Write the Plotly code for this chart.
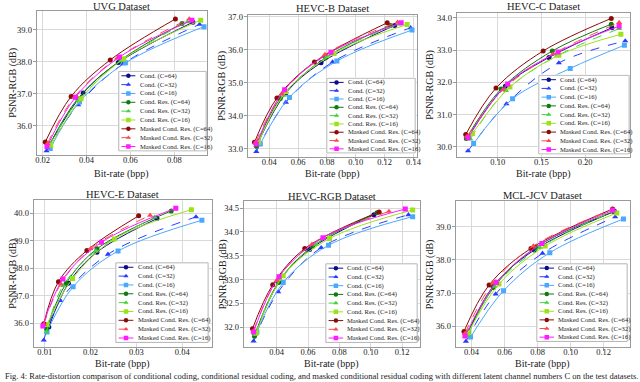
import plotly.graph_objects as go

W, H = 640, 382
FONT = "Liberation Serif"

# series, same order in every panel
series_names = ["Cond. (C=64)", "Cond. (C=32)", "Cond. (C=16)",
                "Cond. Res. (C=64)", "Cond. Res. (C=32)", "Cond. Res. (C=16)",
                "Masked Cond. Res. (C=64)", "Masked Cond. Res. (C=32)", "Masked Cond. Res. (C=16)"]

# ---- UVG
uvg_rate = [[0.0225, 0.0385, 0.0545, 0.0885],
            [0.0218, 0.0362, 0.0567, 0.0915],
            [0.0235, 0.0368, 0.0578, 0.0935],
            [0.0232, 0.0360, 0.0555, 0.0835],
            [0.0228, 0.0363, 0.0560, 0.0860],
            [0.0237, 0.0375, 0.0570, 0.0920],
            [0.0212, 0.0330, 0.0508, 0.0805],
            [0.0222, 0.0345, 0.0540, 0.0868],
            [0.0220, 0.0350, 0.0550, 0.0880]]
uvg_psnr = [[35.35, 37.03, 37.98, 39.24],
            [35.22, 36.66, 37.94, 39.17],
            [35.30, 36.75, 37.97, 39.10],
            [35.42, 36.85, 38.05, 39.20],
            [35.38, 36.80, 38.05, 39.25],
            [35.40, 36.85, 38.10, 39.30],
            [35.50, 36.92, 38.06, 39.34],
            [35.45, 36.90, 38.12, 39.34],
            [35.36, 36.90, 38.15, 39.30]]

# ---- HEVC-B
hevcb_rate = [[0.0326, 0.0515, 0.0759, 0.127],
              [0.0310, 0.0515, 0.0839, 0.138],
              [0.0338, 0.0540, 0.0869, 0.139],
              [0.0310, 0.0476, 0.0790, 0.124],
              [0.0320, 0.0500, 0.0800, 0.130],
              [0.0325, 0.0515, 0.0850, 0.1356],
              [0.0297, 0.0453, 0.0713, 0.1218],
              [0.0305, 0.0487, 0.0786, 0.129],
              [0.0310, 0.0506, 0.0828, 0.1315]]
hevcb_psnr = [[33.22, 34.69, 35.61, 36.74],
              [32.92, 34.41, 35.63, 36.67],
              [33.15, 34.56, 35.66, 36.60],
              [33.08, 34.53, 35.76, 36.74],
              [33.15, 34.62, 35.80, 36.78],
              [33.20, 34.73, 35.89, 36.77],
              [33.20, 34.54, 35.63, 36.82],
              [33.20, 34.66, 35.86, 36.84],
              [33.15, 34.79, 35.93, 36.82]]

# ---- HEVC-C
hevcc_rate = [[0.0660, 0.1087, 0.1587, 0.2307],
              [0.0660, 0.1100, 0.1700, 0.2460],
              [0.0724, 0.1170, 0.1830, 0.2450],
              [0.0640, 0.1038, 0.1625, 0.2300],
              [0.0686, 0.1095, 0.1680, 0.2390],
              [0.0710, 0.1140, 0.1700, 0.2410],
              [0.0633, 0.0980, 0.1520, 0.2300],
              [0.0650, 0.1060, 0.1630, 0.2390],
              [0.0660, 0.1114, 0.1690, 0.2390]]
hevcc_psnr = [[30.30, 31.88, 32.77, 33.69],
              [29.87, 31.33, 32.60, 33.28],
              [30.10, 31.49, 32.43, 33.15],
              [30.26, 31.79, 32.97, 33.80],
              [30.24, 31.74, 32.82, 33.66],
              [30.41, 31.85, 32.84, 33.49],
              [30.38, 31.82, 32.97, 33.98],
              [30.32, 31.77, 32.87, 33.85],
              [30.28, 31.95, 32.94, 33.74]]

# ---- HEVC-E
hevce_rate = [[0.0109, 0.0152, 0.0214, 0.0345],
              [0.0098, 0.0134, 0.0238, 0.0430],
              [0.0105, 0.0162, 0.0260, 0.0443],
              [0.0104, 0.0147, 0.0214, 0.0376],
              [0.0104, 0.0140, 0.0212, 0.0340],
              [0.0105, 0.0161, 0.0252, 0.0420],
              [0.0098, 0.0130, 0.0192, 0.0305],
              [0.0098, 0.0135, 0.0200, 0.0330],
              [0.0096, 0.0140, 0.0224, 0.0386]]
hevce_psnr = [[35.86, 37.45, 38.58, 39.80],
              [35.38, 36.82, 38.50, 39.86],
              [35.68, 37.32, 38.62, 39.74],
              [35.80, 37.45, 38.70, 40.08],
              [35.68, 37.36, 38.62, 39.85],
              [35.95, 37.62, 39.06, 40.12],
              [35.98, 37.50, 38.64, 39.90],
              [35.95, 37.42, 38.70, 39.92],
              [35.89, 37.60, 38.94, 40.18]]

# ---- HEVC-RGB
hevcrgb_rate = [[0.0262, 0.0415, 0.0610, 0.1020],
                [0.0253, 0.0410, 0.0684, 0.1240],
                [0.0274, 0.0442, 0.0731, 0.1267],
                [0.0259, 0.0410, 0.0630, 0.1040],
                [0.0262, 0.0420, 0.0650, 0.1060],
                [0.0270, 0.0442, 0.0737, 0.1267],
                [0.0246, 0.0375, 0.0579, 0.1053],
                [0.0252, 0.0400, 0.0625, 0.1116],
                [0.0253, 0.0415, 0.0695, 0.1220]]
hevcrgb_psnr = [[31.85, 32.95, 33.63, 34.36],
                [31.71, 32.74, 33.67, 34.36],
                [31.90, 32.94, 33.72, 34.32],
                [31.81, 32.94, 33.70, 34.40],
                [31.85, 33.00, 33.74, 34.40],
                [31.88, 33.08, 33.86, 34.46],
                [31.97, 32.89, 33.65, 34.42],
                [31.92, 32.98, 33.74, 34.43],
                [31.90, 33.06, 33.88, 34.48]]

# ---- MCL-JCV
mcl_rate = [[0.0380, 0.0530, 0.0780, 0.1266],
            [0.0366, 0.0546, 0.0830, 0.1270],
            [0.0394, 0.0594, 0.0874, 0.1320],
            [0.0375, 0.0534, 0.0790, 0.1260],
            [0.0378, 0.0540, 0.0814, 0.1262],
            [0.0380, 0.0566, 0.0846, 0.1280],
            [0.0354, 0.0506, 0.0760, 0.1254],
            [0.0360, 0.0530, 0.0774, 0.1250],
            [0.0360, 0.0550, 0.0826, 0.1256]]
mcl_psnr = [[35.82, 37.20, 38.30, 39.47],
            [35.54, 36.97, 38.20, 39.30],
            [35.67, 37.07, 38.22, 39.24],
            [35.76, 37.17, 38.38, 39.46],
            [35.72, 37.20, 38.37, 39.48],
            [35.80, 37.27, 38.42, 39.42],
            [35.84, 37.24, 38.35, 39.54],
            [35.78, 37.30, 38.42, 39.52],
            [35.70, 37.32, 38.50, 39.50]]

# tick labels
uvg_xticks = [0.02, 0.04, 0.06, 0.08]
uvg_yticks = [36.0, 37.0, 38.0, 39.0]
hevcb_xticks = [0.04, 0.06, 0.08, 0.10, 0.12, 0.14]
hevcb_yticks = [33.0, 34.0, 35.0, 36.0, 37.0]
hevcc_xticks = [0.10, 0.15, 0.20]
hevcc_yticks = [30.0, 31.0, 32.0, 33.0, 34.0]
hevce_xticks = [0.01, 0.02, 0.03, 0.04]
hevce_yticks = [36.0, 37.0, 38.0, 39.0, 40.0]
hevcrgb_xticks = [0.04, 0.06, 0.08, 0.10, 0.12]
hevcrgb_yticks = [32.0, 32.5, 33.0, 33.5, 34.0, 34.5]
mcl_xticks = [0.04, 0.06, 0.08, 0.10, 0.12]
mcl_yticks = [36.0, 37.0, 38.0, 39.0]

colors = ['#0b0b8f', '#2a3cff', '#4aa8ff',
          '#0f7a0f', '#3fd43f', '#9be21a',
          '#8b0a0a', '#ff4a4a', '#ff1aff']
symbols = ['circle', 'triangle-up', 'square'] * 3
dashes = ['solid', 'dash', 'solid'] * 3

# panel boxes in pixels: (x0, x1, y0, y1), axis ranges, legend box,
# title y, x-title y, y-title x
panels = [
    dict(title="UVG Dataset", rate=uvg_rate, psnr=uvg_psnr, box=(36, 208, 8, 153),
         xr=[0.0173, 0.0949], yr=[35.10, 39.59], xt=uvg_xticks, yt=uvg_yticks,
         leg=(118, 208, 68, 150), ty=4, xty=172, ytx=12),
    dict(title="HEVC-B Dataset", rate=hevcb_rate, psnr=hevcb_psnr, box=(249, 420, 12, 155),
         xr=[0.025, 0.1425], yr=[32.76, 37.06], xt=hevcb_xticks, yt=hevcb_yticks,
         leg=(328, 419, 75, 152), ty=6, xty=172, ytx=223),
    dict(title="HEVC-C Dataset", rate=hevcc_rate, psnr=hevcc_psnr, box=(460, 635, 10, 155),
         xr=[0.053, 0.2515], yr=[29.69, 34.15], xt=hevcc_xticks, yt=hevcc_yticks,
         leg=(542, 635, 72, 153), ty=4, xty=172, ytx=433),
    dict(title="HEVC-E Dataset", rate=hevce_rate, psnr=hevce_psnr, box=(33, 213, 199, 347),
         xr=[0.0076, 0.0465], yr=[35.12, 40.46], xt=hevce_xticks, yt=hevce_yticks,
         leg=(115, 210, 261, 343), ty=193, xty=364, ytx=12),
    dict(title="HEVC-RGB Dataset", rate=hevcrgb_rate, psnr=hevcrgb_psnr, box=(245, 423, 200, 347),
         xr=[0.019, 0.1314], yr=[31.58, 34.64], xt=hevcrgb_xticks, yt=hevcrgb_yticks,
         leg=(327, 421, 262, 343), ty=195, xty=364, ytx=224),
    dict(title="MCL-JCV Dataset", rate=mcl_rate, psnr=mcl_psnr, box=(459, 635, 200, 347),
         xr=[0.0304, 0.136], yr=[35.36, 39.77], xt=mcl_xticks, yt=mcl_yticks,
         leg=(540, 633, 262, 342), ty=194, xty=364, ytx=433),
]


def dom_x(a, b):
    return [a / W, b / W]


def dom_y(a, b):
    return [1 - b / H, 1 - a / H]


def paper_text(text, px, py, size, **kw):
    # text placed by pixel position on the page
    d = dict(text=text, x=px / W, y=1 - py / H, xref='paper', yref='paper', showarrow=False,
             font=dict(size=size, color='#222'), xanchor='center', yanchor='middle')
    d.update(kw)
    return d


fig = go.Figure()
layout = dict(width=W, height=H, margin=dict(l=0, r=0, t=0, b=0),
              paper_bgcolor='white', plot_bgcolor='white', showlegend=False,
              font=dict(family=FONT, size=9, color='#222'))
annotations = []
shapes = []

for k, p in enumerate(panels, start=1):
    x0, x1, y0, y1 = p['box']
    xa = 'xaxis' if k == 1 else 'xaxis%d' % k
    ya = 'yaxis' if k == 1 else 'yaxis%d' % k
    common = dict(showgrid=True, gridcolor='#d9d9d9', gridwidth=1, zeroline=False,
                  showline=True, linecolor='#9a9a9a', mirror=True,
                  ticks='outside', ticklen=3, tickcolor='#9a9a9a', tickfont=dict(size=8.5))
    layout[xa] = dict(domain=dom_x(x0, x1), range=p['xr'], anchor='y%d' % k,
                      tickvals=p['xt'], tickformat='.2f', ticklabelstandoff=-6, **common)
    layout[ya] = dict(domain=dom_y(y0, y1), range=p['yr'], anchor='x%d' % k,
                      tickvals=p['yt'], tickformat='.1f', ticklabelstandoff=-1, **common)

    # the curves
    for i in range(9):
        fig.add_trace(go.Scatter(x=p['rate'][i], y=p['psnr'][i], name=series_names[i],
                                 mode='lines+markers', line_shape='spline',
                                 line=dict(color=colors[i], width=1, dash=dashes[i]),
                                 marker=dict(color=colors[i], symbol=symbols[i],
                                             size=5 if i % 3 != 1 else 5.5),
                                 xaxis='x%d' % k, yaxis='y%d' % k))

    annotations.append(paper_text(p['title'], (x0 + x1) / 2, p['ty'], 10.5))
    annotations.append(paper_text('Bit-rate (bpp)', (x0 + x1) / 2, p['xty'], 10))
    annotations.append(paper_text('PSNR-RGB (dB)', p['ytx'], (y0 + y1) / 2, 10, textangle=-90))

    # hand made legend (plotly legend rows are too tall for 9 entries here)
    lk = k + 6
    lx0, lx1, ly0, ly1 = p['leg']
    layout['xaxis%d' % lk] = dict(domain=dom_x(lx0, lx1), range=[-0.01, 1.01], visible=False,
                                  anchor='y%d' % lk, fixedrange=True)
    layout['yaxis%d' % lk] = dict(domain=dom_y(ly0, ly1), range=[-0.1, 9.1], visible=False,
                                  anchor='x%d' % lk, fixedrange=True)
    shapes.append(dict(type='rect', xref='x%d' % lk, yref='y%d' % lk, x0=0, x1=1, y0=0, y1=9,
                       layer='between', fillcolor='white',
                       line=dict(color='#b5b5b5', width=1)))
    for i in range(9):
        row = 8.5 - i
        fig.add_trace(go.Scatter(x=[0.03, 0.11, 0.19], y=[row] * 3, mode='lines+markers',
                                 line=dict(color=colors[i], width=1, dash=dashes[i]),
                                 marker=dict(color=colors[i], symbol=symbols[i], size=4.5,
                                             opacity=[0, 1, 0]),
                                 hoverinfo='skip', xaxis='x%d' % lk, yaxis='y%d' % lk))
        annotations.append(dict(text=series_names[i], x=0.215, y=row,
                                xref='x%d' % lk, yref='y%d' % lk, showarrow=False,
                                xanchor='left', yanchor='middle',
                                font=dict(size=6.6, color='#222')))

# caption under the figure (cut by the crop in the original)
annotations.append(paper_text("Fig. 4: Rate-distortion comparison of conditional coding, conditional residual coding, "
                              "and masked conditional residual coding with different latent channel numbers C "
                              "on the test datasets.",
                              2, 376, 8.5, xanchor='left'))

layout['annotations'] = annotations
layout['shapes'] = shapes
fig.update_layout(**layout)

# page body has a default 8px margin, drop it so the figure sits at the corner
fig.write_html("out.html", config={'displayModeBar': False},
               post_script="document.body.style.margin='0';")
